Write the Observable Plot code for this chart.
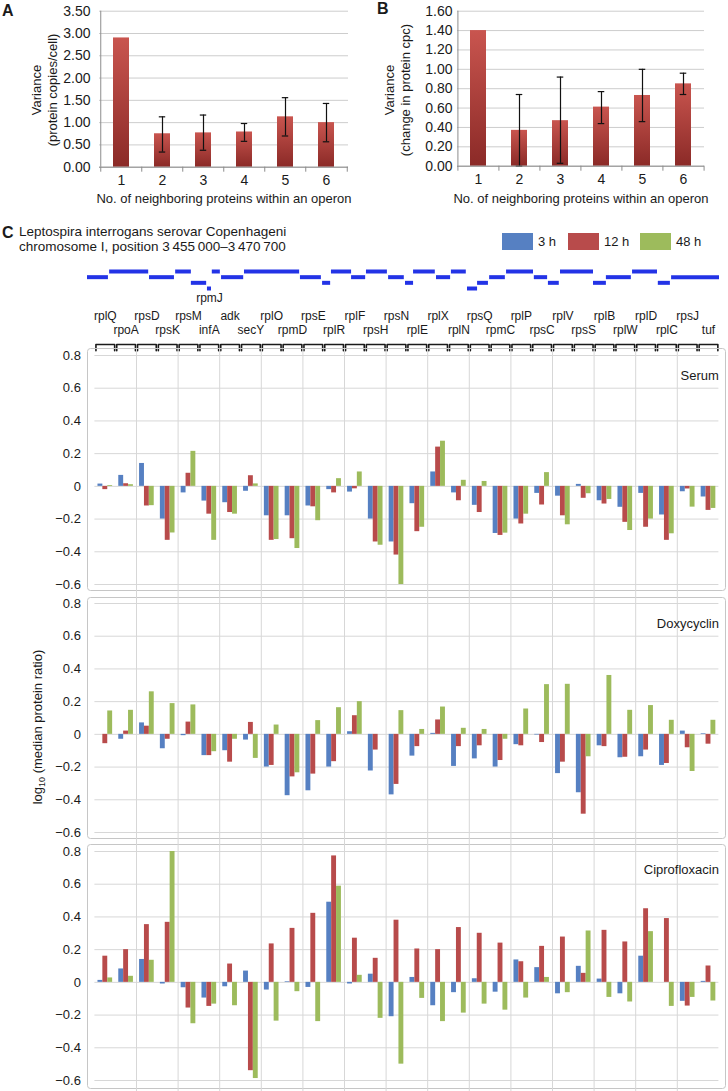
<!DOCTYPE html>
<html><head><meta charset="utf-8">
<script src="https://cdn.jsdelivr.net/npm/d3@7"></script>
<script src="https://cdn.jsdelivr.net/npm/@observablehq/plot@0.6"></script>
<style>
body{margin:0;background:#fff;font-family:"Liberation Sans",Arial,Helvetica,sans-serif;color:#1a1a1a;}
#root{position:relative;width:728px;height:1091px;overflow:hidden;background:#fff;}
#root > svg, #root > .abs{position:absolute;}
.rot{position:absolute;transform:translate(-50%,-50%) rotate(-90deg);white-space:nowrap;text-align:center;font-size:13px;line-height:16px;}
.letter{position:absolute;font-weight:bold;font-size:16px;line-height:1;}
.box{position:absolute;width:31px;height:17px;}
.lt{position:absolute;font-size:13px;line-height:17px;}
</style></head><body><div id="root"></div>
<script>
// ---------- Panels A and B ----------
const operonSize = [1, 2, 3, 4, 5, 6];
const varianceA = [2.90, 0.75, 0.77, 0.79, 1.13, 1.00];
const errLowA  = [null, 0.34, 0.38, 0.58, 0.70, 0.57];
const errHighA = [null, 1.13, 1.17, 0.98, 1.56, 1.43];
const varianceB = [1.40, 0.37, 0.47, 0.61, 0.73, 0.85];
const errLowB  = [null, 0.00, 0.03, 0.44, 0.46, 0.74];
const errHighB = [null, 0.74, 0.92, 0.77, 1.00, 0.96];
const yTicksA = [0, 0.5, 1.0, 1.5, 2.0, 2.5, 3.0, 3.5];
const yTicksB = [0, 0.2, 0.4, 0.6, 0.8, 1.0, 1.2, 1.4, 1.6];
const xTitleAB = "No. of neighboring proteins within an operon";

// ---------- Panel C ----------
const genes = ["rplQ","rpoA","rpsD","rpsK","rpsM","infA","adk","secY","rplO","rpmD","rpsE","rplR","rplF","rpsH","rpsN","rplE","rplX","rplN","rpsQ","rpmC","rplP","rpsC","rplV","rpsS","rplB","rplW","rplD","rplC","rpsJ","tuf"];
const timePoints = ["3 h", "12 h", "48 h"];
const conditions = ["Serum", "Doxycyclin", "Ciprofloxacin"];

const serum3h  = [0.014,0.067,0.14,-0.20,-0.04,-0.09,-0.10,-0.03,-0.18,-0.18,-0.12,-0.02,-0.035,-0.20,-0.34,-0.106,0.088,-0.04,-0.116,-0.288,-0.20,-0.043,-0.06,0.012,-0.088,-0.128,-0.043,-0.175,-0.033,-0.065];
const serum12h = [-0.02,0.016,-0.12,-0.33,0.08,-0.17,-0.16,0.065,-0.33,-0.32,-0.125,-0.04,-0.015,-0.34,-0.42,-0.277,0.24,-0.088,-0.16,-0.30,-0.23,-0.114,-0.18,-0.073,-0.108,-0.22,-0.25,-0.33,-0.016,-0.147];
const serum48h = [0.005,0.01,-0.118,-0.285,0.214,-0.33,-0.17,0.015,-0.325,-0.38,-0.21,0.047,0.088,-0.36,-0.60,-0.25,0.276,0.037,0.03,-0.286,-0.17,0.084,-0.235,-0.045,-0.08,-0.27,-0.20,-0.29,-0.127,-0.135];

const doxy3h  = [0,-0.03,0.07,-0.088,-0.008,-0.13,-0.10,-0.035,-0.20,-0.375,-0.345,-0.20,0.016,-0.224,-0.37,-0.133,0.006,-0.196,-0.15,-0.20,-0.063,-0.004,-0.24,-0.357,-0.07,-0.143,-0.137,-0.19,0.02,0.004];
const doxy12h = [-0.057,0.02,0.05,-0.03,0.075,-0.13,-0.17,0.073,-0.19,-0.26,-0.243,-0.167,0.114,-0.096,-0.306,-0.075,0.088,-0.075,-0.07,-0.16,-0.07,-0.05,-0.17,-0.488,-0.075,-0.14,-0.096,-0.178,-0.082,-0.06];
const doxy48h = [0.143,0.147,0.26,0.188,0.18,-0.106,-0.03,-0.147,0.057,-0.235,0.084,0.163,0.2,0,0.145,0.03,0.167,0.037,0.03,-0.03,0.155,0.304,0.306,-0.137,0.36,0.147,0.176,0.086,-0.227,0.086];

const cipro3h  = [0.012,0.082,0.14,-0.01,-0.033,-0.096,-0.027,0.069,-0.047,0.004,-0.031,0.49,-0.01,0.05,-0.21,0.03,-0.143,-0.063,0.022,-0.06,0.137,0.09,-0.07,0.098,0.02,-0.07,0.16,0,-0.116,0.006];
const cipro12h = [0.16,0.2,0.353,0.367,-0.157,-0.147,0.112,-0.54,0.235,0.33,0.422,0.773,0.27,0.147,0.38,0.204,0.2,0.335,0.3,0.24,0.126,0.22,0.277,0.055,0.318,0.247,0.45,0.39,-0.145,0.1];
const cipro48h = [0.027,0.037,0.135,0.8,-0.253,-0.133,-0.143,-0.588,-0.237,-0.057,-0.24,0.588,0.043,-0.22,-0.5,-0.098,-0.24,-0.188,-0.133,-0.17,-0.096,0.03,-0.063,0.314,-0.092,-0.12,0.31,-0.147,-0.092,-0.114];

const yTicksC = [-0.6, -0.4, -0.2, 0, 0.2, 0.4, 0.6, 0.8];
const gridEvery2 = [2,4,6,8,10,12,14,16,18,20,22,24,26,28];

// genomic map (chromosome I), start / end / reading-frame level
const segStart = [3455000,3455550,3456540,3457190,3457580,3457980,3458100,3458330,3458900,3460290,3460840,3461060,3461560,3461930,3462480,3462900,3463100,3463670,3464040,3464440,3464690,3464990,3465410,3466100,3466450,3466750,3467570,3467890,3468540,3469180,3469510];
const segEnd   = [3455520,3456520,3457160,3457580,3457960,3458080,3458300,3458880,3460270,3460810,3461040,3461560,3461910,3462450,3462870,3463100,3463640,3464020,3464410,3464690,3464960,3465380,3466080,3466430,3466720,3467570,3467890,3468510,3469160,3469480,3470700];
const segLevel = [2,1,2,1,3,4,1,2,1,2,3,1,2,1,2,3,1,2,1,4,3,2,1,2,3,1,3,2,1,3,2];
const mapLabels = [{name: "rpmJ", seg: 5}];

const FONT = '"Liberation Sans", Arial, Helvetica, sans-serif';
const colors = ["#5680c2", "#b84b4b", "#9dbb5c"];
const root = document.getElementById("root");

function place(node, left, top) {
  node.style.position = "absolute";
  node.style.left = left + "px";
  node.style.top = top + "px";
  root.appendChild(node);
  return node;
}
function addDiv(cls, html, left, top, extra) {
  const d = document.createElement("div");
  d.className = cls;
  d.innerHTML = html;
  d.style.left = left + "px";
  d.style.top = top + "px";
  if (extra) Object.assign(d.style, extra);
  root.appendChild(d);
  return d;
}

// ---------- bar charts A, B ----------
function variancePlot(vals, lo, hi, yTicks, gradId, o) {
  const data = operonSize.map((k, i) => ({k, v: vals[i], lo: lo[i], hi: hi[i]}));
  const err = data.filter(d => d.lo != null);
  const step = (o.width - o.marginLeft - o.marginRight) / operonSize.length;
  const ymax = yTicks[yTicks.length - 1];
  const tickLen = 5 * ymax / (o.height - o.marginTop - o.marginBottom);
  const bw = step * 0.4;
  const capInset = (bw - 7) / 2;
  const svg = Plot.plot({
    width: o.width, height: o.height,
    marginLeft: o.marginLeft, marginRight: o.marginRight, marginTop: o.marginTop, marginBottom: o.marginBottom,
    style: {fontFamily: FONT, fontSize: "14px", color: "#1a1a1a", background: "transparent"},
    x: {type: "band", domain: operonSize, paddingInner: 0.6, paddingOuter: 0.3},
    y: {domain: [0, ymax]},
    marks: [
      Plot.ruleY(yTicks, {stroke: "#cdcdcd"}),
      Plot.barY(data, {x: "k", y: "v", fill: `url(#${gradId})`}),
      Plot.ruleX(err, {x: "k", y1: "lo", y2: "hi", stroke: "#111", strokeWidth: 1.2}),
      Plot.tickY(err, {x: "k", y: "lo", stroke: "#111", strokeWidth: 1.2, insetLeft: capInset, insetRight: capInset}),
      Plot.tickY(err, {x: "k", y: "hi", stroke: "#111", strokeWidth: 1.2, insetLeft: capInset, insetRight: capInset}),
      Plot.ruleY([0], {stroke: "#8c8c8c"}),
      Plot.ruleX([operonSize[0]], {dx: -step / 2, y1: 0, y2: ymax, stroke: "#8c8c8c"}),
      Plot.ruleX(operonSize, {dx: -step / 2, y1: 0, y2: -tickLen, stroke: "#8c8c8c"}),
      Plot.ruleX([operonSize[operonSize.length - 1]], {dx: step / 2, y1: 0, y2: -tickLen, stroke: "#8c8c8c"}),
      Plot.axisY(yTicks, {tickSize: 0, tickPadding: o.tickPad, tickFormat: d => d.toFixed(2), label: null}),
      Plot.axisX({tickSize: 0, tickPadding: 8, label: null}),
      Plot.text([xTitleAB], {frameAnchor: "bottom", dy: o.titleDy, text: d => d, fontSize: 13})
    ]
  });
  d3.select(svg).insert("defs", ":first-child").html(
    `<linearGradient id="${gradId}" x1="0" y1="0" x2="0" y2="1"><stop offset="0" stop-color="#c9554f"/><stop offset="1" stop-color="#8b2a27"/></linearGradient>`);
  return svg;
}

place(variancePlot(varianceA, errLowA, errHighA, yTicksA, "gradA",
  {width: 364, height: 214, marginLeft: 99, marginRight: 16, marginTop: 10.7, marginBottom: 47.3, tickPad: 9, titleDy: 36}), 0, 0);
place(variancePlot(varianceB, errLowB, errHighB, yTicksB, "gradB",
  {width: 364, height: 214, marginLeft: 93, marginRight: 24, marginTop: 10.7, marginBottom: 48.3, tickPad: 5, titleDy: 37}), 364, 0);

addDiv("letter", "A", 2, 3);
addDiv("letter", "B", 377, 1);
addDiv("rot", "Variance<br>(protein copies/cell)", 45, 90);
addDiv("rot", "Variance<br>(change in protein cpc)", 398, 90);

// ---------- Panel C header ----------
addDiv("letter", "C", 2, 225);
addDiv("abs", "Leptospira interrogans serovar Copenhageni<br>chromosome I, position 3&#8201;455&#8201;000–3&#8201;470&#8201;700", 19, 225, {fontSize: "13.5px", lineHeight: "14.5px"});
const legX = [502, 568, 640];
timePoints.forEach((t, i) => {
  addDiv("box", "", legX[i], 233, {background: colors[i]});
  addDiv("lt", t, legX[i] + 36, 233);
});

// genomic map
const segs = segStart.map((s, i) => ({start: s, end: segEnd[i], level: segLevel[i]}));
const mapText = mapLabels.map(l => ({name: l.name, x: (segStart[l.seg] + segEnd[l.seg]) / 2, level: segLevel[l.seg]}));
place(Plot.plot({
  width: 728, height: 50, marginLeft: 87, marginRight: 9, marginTop: 16, marginBottom: 17,
  style: {fontFamily: FONT, fontSize: "12px", color: "#1a1a1a", background: "transparent"},
  x: {domain: [3455000, 3470700], axis: null},
  y: {domain: [1, 4], reverse: true, axis: null},
  marks: [
    Plot.ruleY(segs, {y: "level", x1: "start", x2: "end", stroke: "#2333e6", strokeWidth: 4}),
    Plot.text(mapText, {x: "x", y: "level", text: "name", dy: 10, fontSize: 12})
  ]
}), 0, 255);

// gene labels + brackets
const geneRows = genes.map((g, i) => ({g, i, row: i % 2 === 0 ? 1 : 2}));
const bracketPts = genes.flatMap((g, i) => [
  {g, x: i + 0.05, y: 3.45}, {g, x: i + 0.05, y: 3}, {g, x: i + 0.95, y: 3}, {g, x: i + 0.95, y: 3.45}
]);
place(Plot.plot({
  width: 728, height: 48, marginLeft: 94.4, marginRight: 9.6, marginTop: 11, marginBottom: 2,
  style: {fontFamily: FONT, fontSize: "12px", color: "#1a1a1a", background: "transparent"},
  x: {domain: [0, 30], axis: null},
  y: {domain: [1, 3.5], reverse: true, axis: null},
  marks: [
    Plot.text(geneRows, {x: d => d.i + 0.5, y: "row", text: "g", fontSize: 12}),
    Plot.line(bracketPts, {x: "x", y: "y", z: "g", stroke: "#1a1a1a", strokeWidth: 1.6})
  ]
}), 0, 305);

// ---------- Panel C bar panels ----------
const barW = 0.235, barOff = 0.5 - 1.5 * barW;
function conditionPlot(label, series, o) {
  const marks = [
    Plot.frame({stroke: "#c6c6c6", rx: 3, insetLeft: -7.4, insetRight: -6.6, insetTop: o.ft, insetBottom: o.fb}),
    Plot.ruleY(yTicksC, {stroke: "#d7d7d7"}),
    Plot.ruleX(gridEvery2, {stroke: "#d7d7d7", insetTop: -o.mt, insetBottom: -o.mb})
  ];
  series.forEach((vals, s) => {
    const rows = genes.map((g, i) => ({i, v: vals[i]}));
    marks.push(Plot.rect(rows, {x1: d => d.i + barOff + s * barW, x2: d => d.i + barOff + (s + 1) * barW, y1: 0, y2: "v", fill: colors[s]}));
  });
  marks.push(Plot.axisY(yTicksC, {tickSize: 0, tickPadding: 14, label: null,
    tickFormat: d => d === 0 ? "0" : (d < 0 ? "\u2212" : "") + Math.abs(d).toFixed(1)}));
  marks.push(Plot.text([label], {frameAnchor: "top-right", dy: o.ldy, text: d => d, fontSize: 13}));
  return Plot.plot({
    width: 728, height: o.h, marginLeft: 94.4, marginRight: 9.6, marginTop: o.mt, marginBottom: o.mb,
    style: {fontFamily: FONT, fontSize: "13px", color: "#1a1a1a", background: "transparent"},
    x: {domain: [0, 30], axis: null},
    y: {domain: [-0.6, 0.8], axis: null},
    marks
  });
}
place(conditionPlot(conditions[0], [serum3h, serum12h, serum48h], {h: 248, mt: 7, mb: 12, ft: -7, fb: -6, ldy: 15}), 0, 348);
place(conditionPlot(conditions[1], [doxy3h, doxy12h, doxy48h], {h: 248, mt: 7, mb: 12, ft: -6, fb: -6, ldy: 15}), 0, 596);
place(conditionPlot(conditions[2], [cipro3h, cipro12h, cipro48h], {h: 247, mt: 7, mb: 11, ft: -7, fb: -8, ldy: 13}), 0, 844);

addDiv("rot", "log<sub style=\"font-size:9px\">10</sub> (median protein ratio)", 40, 727);
</script></body></html>
